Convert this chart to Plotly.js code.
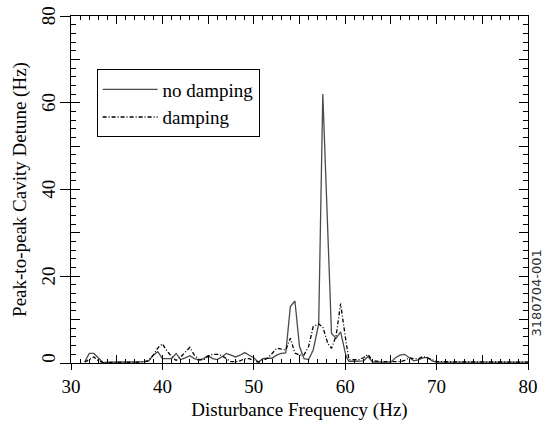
<!DOCTYPE html>
<html>
<head>
<meta charset="utf-8">
<script src="https://cdn.plot.ly/plotly-3.0.1.min.js"></script>
<style>html,body{margin:0;padding:0;background:#fff}#chart{width:545px;height:422px}</style>
</head>
<body>
<div id="chart"></div>
<script>
// Disturbance frequency (Hz) and peak-to-peak cavity detune (Hz)
var freqNoDamping = [31.5,32.0,32.5,33.0,33.5,34.0,35.0,36.0,37.0,38.0,38.5,39.0,39.5,40.0,40.5,41.0,41.5,42.0,42.5,43.0,43.5,44.0,44.5,45.0,45.5,46.0,46.5,47.0,47.5,48.0,48.5,49.0,49.5,50.0,50.5,51.0,51.5,52.0,52.5,53.0,53.5,54.0,54.5,55.0,55.5,56.0,56.5,57.1,57.55,58.5,59.0,59.5,60.1,60.4,61.0,62.0,62.5,63.0,64.0,65.0,65.5,66.0,66.5,67.0,67.5,68.0,68.5,69.0,69.5,70.0,71.0,72.0,73.0,74.0,75.0,76.0,77.0,78.0,79.0,80.0];
var noDamping     = [0.3,2.2,2.2,1.2,0.1,0.2,0.2,0.2,0.2,0.3,0.5,1.8,2.6,1.0,1.0,1.0,2.2,0.8,1.2,1.7,1.0,0.7,1.0,1.7,1.0,0.8,1.4,2.2,1.8,1.4,1.8,2.4,1.8,1.2,0.2,1.0,1.1,1.1,1.8,2.2,2.3,13.0,14.3,3.8,1.0,0.8,3.0,9.0,62.0,6.8,5.7,7.2,1.5,0.4,0.4,0.5,1.5,0.2,0.2,0.2,1.2,1.8,2.0,1.2,0.5,0.7,1.2,1.3,0.5,0.2,0.2,0.3,0.2,0.2,0.3,0.2,0.2,0.3,0.2,0.2];
var freqDamping   = [31.5,32.0,32.5,33.0,33.5,34.0,35.0,36.0,37.0,38.0,38.5,39.0,39.5,40.0,40.5,41.0,41.5,42.0,42.5,43.0,43.5,44.0,44.5,45.0,45.5,46.0,46.5,47.0,47.5,48.0,48.5,49.0,49.5,50.0,50.5,51.0,51.5,52.0,52.5,53.0,53.5,54.0,54.5,55.0,55.5,56.0,56.5,57.1,57.55,58.1,58.5,59.0,59.5,60.0,60.4,61.0,61.5,62.0,62.5,63.0,64.0,65.0,66.0,66.5,67.0,67.5,68.0,68.5,69.0,69.5,70.0,71.0,72.0,73.0,74.0,75.0,76.0,77.0,78.0,79.0,80.0];
var damping       = [0.2,0.8,1.4,0.5,0.1,0.1,0.1,0.1,0.1,0.2,0.6,1.8,3.5,4.4,2.8,1.5,0.6,1.4,2.5,3.6,1.8,0.8,0.7,1.6,2.0,2.0,1.7,1.0,0.3,0.3,0.5,1.0,1.0,0.6,0.2,0.6,1.1,2.2,3.4,3.2,3.0,5.7,2.3,1.8,1.9,3.8,8.4,9.0,8.3,4.5,3.4,6.2,13.7,6.2,0.8,0.8,0.8,1.2,2.0,0.5,0.3,0.3,0.3,0.6,1.2,1.0,1.0,1.5,1.2,0.8,0.3,0.3,0.2,0.3,0.2,0.2,0.3,0.2,0.2,0.3,0.2];
var seriesNames = ["no damping", "damping"];
var xTitle = "Disturbance Frequency (Hz)";
var yTitle = "Peak-to-peak Cavity Detune (Hz)";
var figureId = "3180704-001";

var serif = "Liberation Serif";

var traces = [
  {x: freqNoDamping, y: noDamping, name: seriesNames[0], type: "scatter", mode: "lines",
   line: {color: "#4a4a4a", width: 1.3}, xaxis: "x", yaxis: "y"},
  {x: freqDamping, y: damping, name: seriesNames[1], type: "scatter", mode: "lines",
   line: {color: "#000000", width: 1.3, dash: "4px,2px,1px,2px"}, xaxis: "x2", yaxis: "y2"}
];

var layout = {
  width: 545, height: 422,
  margin: {l: 71, r: 17, t: 16, b: 59},
  paper_bgcolor: "#ffffff", plot_bgcolor: "#ffffff",
  font: {family: serif, size: 19, color: "#000"},
  showlegend: true,
  legend: {x: 0.056, y: 0.846, xanchor: "left", yanchor: "top",
           bgcolor: "#ffffff", bordercolor: "#000", borderwidth: 1,
           font: {family: serif, size: 19, color: "#000"}, itemwidth: 55},
  xaxis: {range: [30, 80], tick0: 30, dtick: 10, ticks: "outside", ticklen: 6, tickcolor: "#000",
          showline: true, linecolor: "#000", linewidth: 1, mirror: true,
          showgrid: false, zeroline: false,
          tickfont: {family: serif, size: 19, color: "#000"},
          title: {text: xTitle, font: {family: serif, size: 19, color: "#000"}, standoff: 6}},
  xaxis2: {overlaying: "x", anchor: "y2", range: [30, 80], tick0: 30, dtick: 5,
           ticks: "inside", ticklen: 8, tickcolor: "#000",
           minor: {dtick: 1, ticklen: 4, ticks: "inside", tickcolor: "#000"},
           showline: true, linecolor: "#000", mirror: "ticks",
           showticklabels: false, showgrid: false, zeroline: false},
  yaxis: {range: [0, 80], tick0: 0, dtick: 20, ticks: "outside", ticklen: 10, tickcolor: "#000",
          showline: true, linecolor: "#000", linewidth: 1, mirror: true,
          showgrid: false, zeroline: false, tickangle: -89.9,
          ticklabelstandoff: 11, ticklabelshift: -7,
          tickfont: {family: serif, size: 19, color: "#000"},
          title: {text: yTitle, font: {family: serif, size: 19, color: "#000"}, standoff: 6}},
  yaxis2: {overlaying: "y", anchor: "x2", range: [0, 80], tick0: 0, dtick: 10,
           ticks: "inside", ticklen: 9, tickcolor: "#000",
           minor: {dtick: 2, ticklen: 5, ticks: "inside", tickcolor: "#000"},
           showline: true, linecolor: "#000", mirror: "ticks",
           showticklabels: false, showgrid: false, zeroline: false},
  annotations: [{text: figureId, xref: "paper", yref: "paper", x: 1.0197, y: 0.2,
                 xanchor: "center", yanchor: "middle", textangle: -90, showarrow: false,
                 font: {family: "DejaVu Sans", size: 13, color: "#333"}}]
};

Plotly.newPlot("chart", traces, layout, {displayModeBar: false});
</script>
</body>
</html>
